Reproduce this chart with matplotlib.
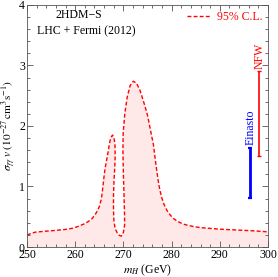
import matplotlib
matplotlib.use('Agg')
import matplotlib.pyplot as plt
from matplotlib.patches import Polygon
from matplotlib.lines import Line2D
from matplotlib.ticker import MultipleLocator

plt.rcParams['font.family'] = ['Liberation Serif', 'DejaVu Serif']
plt.rcParams['mathtext.fontset'] = 'stix'

# 95% C.L. contour (in path order)
mh = [250.0, 251.7, 253.7, 256.0, 257.9, 259.5, 260.6, 261.8, 262.7, 263.5,
      264.1, 264.7, 265.1, 265.4, 265.6, 265.75, 265.9, 266.2, 266.6, 266.9,
      267.1, 267.4, 267.75, 268.05, 268.25, 268.3, 268.2, 268.05, 267.95, 267.95,
      268.05, 268.3, 268.8, 269.2, 269.6, 270.0, 270.25, 270.25, 270.15, 270.0,
      269.9, 269.95, 270.3, 270.8, 271.4, 272.05, 272.7, 273.4, 274.0, 274.5,
      275.0, 275.5, 275.9, 276.2, 276.5, 276.8, 277.2, 277.5, 277.9, 278.4,
      279.0, 279.7, 280.4, 281.3, 282.4, 283.5, 284.5, 286.0, 287.6, 290.0,
      292.5, 295.0, 297.5, 300.0]
sigv = [0.20, 0.245, 0.26, 0.275, 0.29, 0.31, 0.34, 0.38, 0.42, 0.47,
        0.53, 0.61, 0.69, 0.79, 0.89, 1.00, 1.11, 1.30, 1.47, 1.60,
        1.71, 1.81, 1.85, 1.80, 1.70, 1.50, 1.30, 1.10, 0.85, 0.60,
        0.42, 0.30, 0.22, 0.19, 0.18, 0.24, 0.36, 0.50, 0.80, 1.20,
        1.60, 1.88, 2.21, 2.48, 2.67, 2.74, 2.71, 2.60, 2.45, 2.32,
        2.18, 1.98, 1.82, 1.71, 1.52, 1.33, 1.11, 0.97, 0.83, 0.71,
        0.61, 0.53, 0.47, 0.42, 0.38, 0.355, 0.34, 0.32, 0.31, 0.295,
        0.285, 0.275, 0.265, 0.25]

# Fermi line ranges for two halo profiles
profiles = ['Einasto', 'NFW']
prof_x = [296.3, 298.2]
prof_lo = [0.81, 1.50]
prof_hi = [1.64, 2.91]
prof_col = ['blue', 'red']
prof_lw = [2.0, 1.2]

red = '#ff0000'

fig = plt.figure(figsize=(2.78, 2.77), dpi=100)
ax = fig.add_axes([0.0971, 0.1083, 0.8669, 0.8737])

# shaded region under the contour
verts = list(zip(mh, sigv)) + [(mh[-1], 0), (mh[0], 0)]
ax.add_patch(Polygon(verts, closed=True, facecolor='#ffe8e8', edgecolor='none', zorder=1))
ax.plot(mh, sigv, color=red, lw=1.0, ls=(0, (2.8, 1.6)), zorder=2)

for name, x, lo, hi, c, lw in zip(profiles, prof_x, prof_lo, prof_hi, prof_col, prof_lw):
    ax.errorbar([x], [(lo + hi) / 2], yerr=[(hi - lo) / 2], fmt='none', ecolor=c,
                elinewidth=lw, capsize=1.6, capthick=lw * 0.8, zorder=3)
    ax.text(x, hi + 0.04, name, rotation=90, ha='center', va='bottom', color=c, fontsize=8.5)

ax.text(0.216, 0.959, '2HDM\u2212S', transform=ax.transAxes, ha='center', va='center', fontsize=8.5)
ax.text(0.245, 0.893, 'LHC + Fermi (2012)', transform=ax.transAxes, ha='center', va='center', fontsize=8.5)

handle = Line2D([], [], color=red, lw=1.0, ls=(0, (2.8, 1.6)))
ax.legend([handle], ['95% C.L.'], loc='upper right', frameon=False, fontsize=8.5,
          labelcolor=red, handlelength=2.0, handletextpad=0.5,
          borderaxespad=0.2, borderpad=0.3)

ax.set_xlim(250, 300)
ax.set_ylim(0, 4)
ax.xaxis.set_major_locator(MultipleLocator(10))
ax.xaxis.set_minor_locator(MultipleLocator(2))
ax.yaxis.set_major_locator(MultipleLocator(1))
ax.yaxis.set_minor_locator(MultipleLocator(0.2))
ax.tick_params(which='both', direction='in', top=True, right=True, labelsize=8.5,
               width=0.6, color='#555555', pad=1.5)
ax.tick_params(which='major', length=4)
ax.tick_params(which='minor', length=2)
for s in ax.spines.values():
    s.set_linewidth(0.6)
    s.set_color('#555555')

ax.set_xlabel(r'$m_H$ (GeV)', fontsize=8.5, labelpad=1)
ax.set_ylabel(r'$\sigma_{\gamma\gamma}\,v\ (10^{-27}\,\mathrm{cm^3 s^{-1}})$', fontsize=8.2, labelpad=0.5)

fig.savefig('out.png', dpi=100)
